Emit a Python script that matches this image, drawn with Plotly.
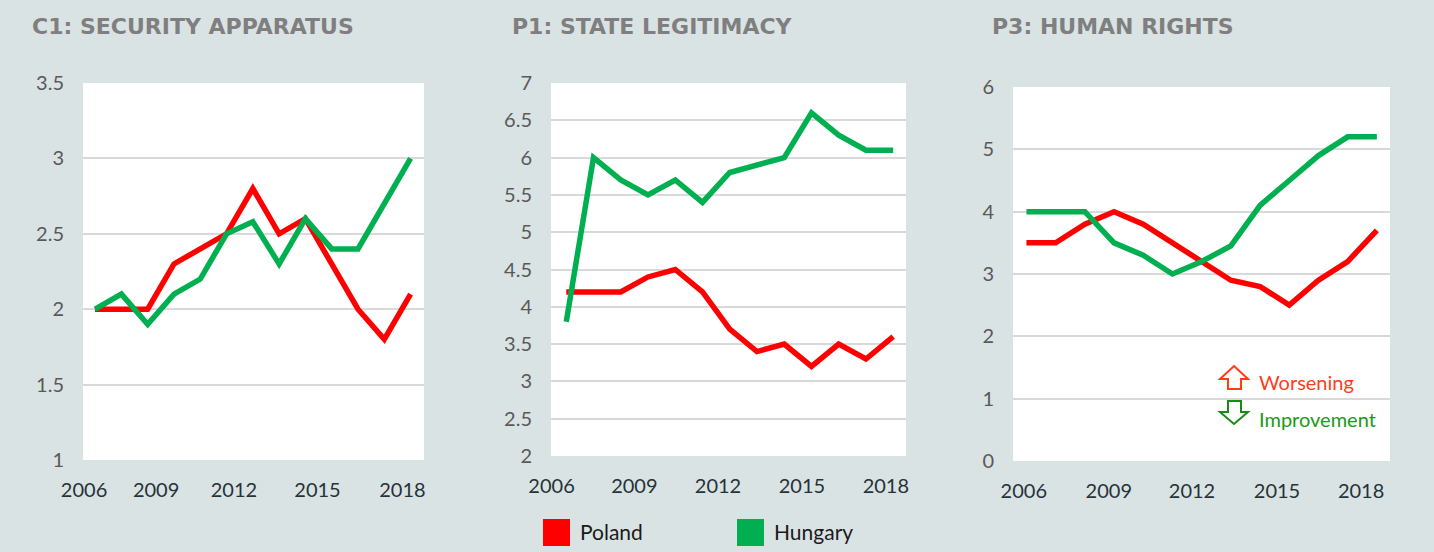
import plotly.graph_objects as go

# ---------------- data ----------------
years = list(range(2006, 2019))
tick_labels = ["2006", "2009", "2012", "2015", "2018"]

c1_poland = [2.0, 2.0, 2.0, 2.3, 2.4, 2.5, 2.8, 2.5, 2.6, 2.3, 2.0, 1.8, 2.1]
c1_hungary = [2.0, 2.1, 1.9, 2.1, 2.2, 2.5, 2.58, 2.3, 2.6, 2.4, 2.4, 2.7, 3.0]

p1_poland = [4.2, 4.2, 4.2, 4.4, 4.5, 4.2, 3.7, 3.4, 3.5, 3.2, 3.5, 3.3, 3.6]
p1_hungary = [3.8, 6.0, 5.7, 5.5, 5.7, 5.4, 5.8, 5.9, 6.0, 6.6, 6.3, 6.1, 6.1]

p3_poland = [3.5, 3.5, 3.8, 4.0, 3.8, 3.5, 3.2, 2.9, 2.8, 2.5, 2.9, 3.2, 3.7]
p3_hungary = [4.0, 4.0, 4.0, 3.5, 3.3, 3.0, 3.2, 3.45, 4.1, 4.5, 4.9, 5.2, 5.2]

series_names = ["Poland", "Hungary"]
series_colors = ["#ff0000", "#00b050"]

panel_titles = ["C1: SECURITY APPARATUS", "P1: STATE LEGITIMACY", "P3: HUMAN RIGHTS"]

# ---------------- layout settings ----------------
W, H = 1434, 552
BG = "#dae3e4"

panels = [
    dict(title=panel_titles[0], pol=c1_poland, hun=c1_hungary,
         yrange=[1, 3.5], dtick=0.5,
         px=(83, 424), py=(83, 460), xrange=[2005.54, 2018.51],
         tickpos=[2005.58, 2008.32, 2011.28, 2014.46, 2017.69], title_x=30),
    dict(title=panel_titles[1], pol=p1_poland, hun=p1_hungary,
         yrange=[2, 7], dtick=0.5,
         px=(551, 906), py=(83, 456), xrange=[2005.44, 2018.47],
         tickpos=[2005.46, 2008.50, 2011.57, 2014.65, 2017.73], title_x=510),
    dict(title=panel_titles[2], pol=p3_poland, hun=p3_hungary,
         yrange=[0, 6], dtick=1,
         px=(1013, 1390), py=(87, 461), xrange=[2005.54, 2018.45],
         tickpos=[2005.91, 2008.82, 2011.67, 2014.58, 2017.46], title_x=990),
]

fig = go.Figure()
annotations = []
shapes = []

for i, p in enumerate(panels, start=1):
    xa = "x" if i == 1 else f"x{i}"
    ya = "y" if i == 1 else f"y{i}"
    for name, vals, col in zip(series_names, [p["pol"], p["hun"]], series_colors):
        fig.add_trace(go.Scatter(
            x=years, y=vals, mode="lines", name=name,
            line=dict(color=col, width=5.5),
            xaxis=xa, yaxis=ya, showlegend=False,
            hovertemplate="%{x}: %{y}<extra>" + name + "</extra>",
        ))
    xdom = [p["px"][0] / W, p["px"][1] / W]
    ydom = [1 - p["py"][1] / H, 1 - p["py"][0] / H]
    xkey = "xaxis" if i == 1 else f"xaxis{i}"
    ykey = "yaxis" if i == 1 else f"yaxis{i}"
    fig.update_layout(**{
        xkey: dict(domain=xdom, anchor=ya, range=p["xrange"], automargin=False,
                   tickmode="array", tickvals=p["tickpos"], ticktext=tick_labels,
                   showgrid=False, zeroline=False, showline=False, ticks="",
                   ticklabelstandoff=16,
                   tickfont=dict(family="Lato", size=20, color="#263238")),
        ykey: dict(domain=ydom, anchor=xa, range=p["yrange"], automargin=False,
                   tickmode="linear", tick0=p["yrange"][0], dtick=p["dtick"],
                   showgrid=True, gridcolor="#d9d9d9", gridwidth=1.5,
                   zeroline=False, showline=False, ticks="",
                   ticklabelstandoff=18,
                   tickfont=dict(family="Lato", size=20, color="#595959")),
    })
    annotations.append(dict(
        text=p["title"], xref="paper", yref="paper",
        x=p["title_x"] / W, y=1 - 27 / H, xanchor="left", yanchor="middle",
        showarrow=False,
        font=dict(family="DejaVu Sans", size=22, color="#7f7f7f", weight="bold"),
    ))

# ---------------- manual legend ----------------
legend_items = [(series_names[0], series_colors[0], 543), (series_names[1], series_colors[1], 737)]
for name, col, x0 in legend_items:
    shapes.append(dict(type="rect", xref="paper", yref="paper",
                       x0=x0 / W, x1=(x0 + 27) / W, y0=1 - 546 / H, y1=1 - 519 / H,
                       fillcolor=col, line=dict(width=0)))
    annotations.append(dict(text=name, xref="paper", yref="paper",
                            x=(x0 + 35) / W, y=1 - 531 / H, xanchor="left", yanchor="middle",
                            showarrow=False,
                            font=dict(family="Lato", size=21, color="#1a1a1a")))

# ---------------- worsening / improvement key ----------------
def pp(x, y):
    return f"{x / W:.5f},{1 - y / H:.5f}"

up = [(1234, 366), (1248, 379), (1241, 379), (1241, 389), (1228, 389), (1228, 379), (1220, 379)]
down = [(1228, 401), (1241, 401), (1241, 412), (1248, 412), (1234, 424), (1220, 412), (1228, 412)]
for pts, col in [(up, "#ff3b1a"), (down, "#168c16")]:
    path = "M " + " L ".join(pp(x, y) for x, y in pts) + " Z"
    shapes.append(dict(type="path", xref="paper", yref="paper", path=path,
                       line=dict(color=col, width=2), fillcolor="white"))

annotations.append(dict(text="Worsening", xref="paper", yref="paper",
                        x=1257 / W, y=1 - 382 / H, xanchor="left", yanchor="middle",
                        showarrow=False, font=dict(family="Lato", size=20, color="#ff3b1a")))
annotations.append(dict(text="Improvement", xref="paper", yref="paper",
                        x=1257 / W, y=1 - 419 / H, xanchor="left", yanchor="middle",
                        showarrow=False, font=dict(family="Lato", size=20, color="#1a9a1a")))

fig.update_layout(
    width=W, height=H, autosize=False,
    margin=dict(l=0, r=0, t=0, b=0, pad=0, autoexpand=False),
    paper_bgcolor=BG, plot_bgcolor="white",
    annotations=annotations, shapes=shapes,
    showlegend=False,
)

fig.write_html("out.html", config={"responsive": False, "displayModeBar": False},
               post_script="document.body.style.margin='0';document.body.style.overflow='hidden';")
